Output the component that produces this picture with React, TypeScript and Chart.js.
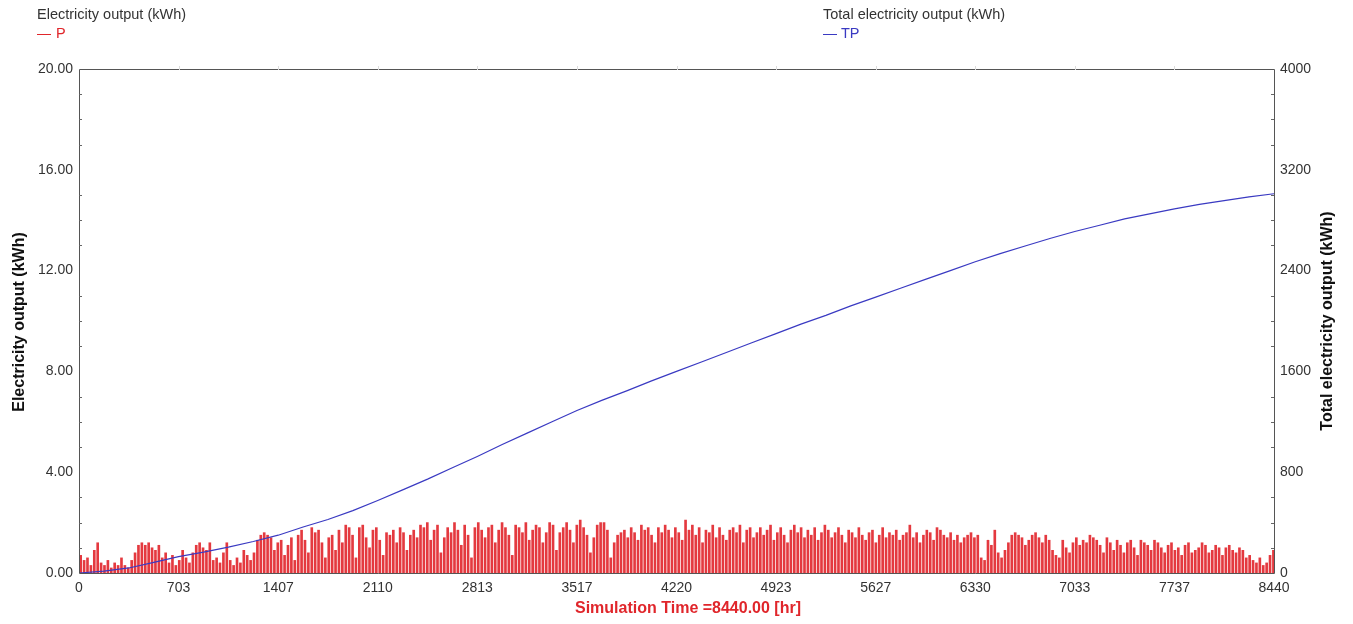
import { useEffect, useRef } from 'react';
import { Chart, registerables } from 'chart.js';

Chart.register(...registerables);

// Daily peak electricity output P (kWh), one value per simulated day (24 h)
const dailyPeakP: number[] = [
  0.7, 0.5, 0.6, 0.3, 0.9, 1.2, 0.4, 0.3, 0.5, 0.2, 0.4, 0.3, 0.6, 0.3, 0.2, 0.5, 0.8, 1.1, 1.2, 1.1,
  1.2, 1.0, 0.9, 1.1, 0.6, 0.8, 0.4, 0.7, 0.3, 0.5, 0.9, 0.6, 0.4, 0.8, 1.1, 1.2, 1.0, 0.9, 1.2, 0.5,
  0.6, 0.4, 0.8, 1.2, 0.5, 0.3, 0.6, 0.4, 0.9, 0.7, 0.5, 0.8, 1.3, 1.5, 1.6, 1.5, 1.4, 0.9, 1.2, 1.3,
  0.7, 1.1, 1.4, 0.5, 1.5, 1.7, 1.3, 0.8, 1.8, 1.6, 1.7, 1.2, 0.6, 1.4, 1.5, 0.9, 1.7, 1.2, 1.9, 1.8,
  1.5, 0.6, 1.8, 1.9, 1.4, 1.0, 1.7, 1.8, 1.3, 0.7, 1.6, 1.5, 1.7, 1.2, 1.8, 1.6, 0.9, 1.5, 1.7, 1.4,
  1.9, 1.8, 2.0, 1.3, 1.7, 1.9, 0.8, 1.4, 1.8, 1.6, 2.0, 1.7, 1.1, 1.9, 1.5, 0.6, 1.8, 2.0, 1.7, 1.4,
  1.8, 1.9, 1.2, 1.7, 2.0, 1.8, 1.5, 0.7, 1.9, 1.8, 1.6, 2.0, 1.3, 1.7, 1.9, 1.8, 1.2, 1.6, 2.0, 1.9,
  0.9, 1.6, 1.8, 2.0, 1.7, 1.2, 1.9, 2.1, 1.8, 1.5, 0.8, 1.4, 1.9, 2.0, 2.0, 1.7, 0.6, 1.2, 1.5, 1.6,
  1.7, 1.4, 1.8, 1.6, 1.3, 1.9, 1.7, 1.8, 1.5, 1.2, 1.8, 1.6, 1.9, 1.7, 1.4, 1.8, 1.6, 1.3, 2.1, 1.7,
  1.9, 1.5, 1.8, 1.2, 1.7, 1.6, 1.9, 1.4, 1.8, 1.5, 1.3, 1.7, 1.8, 1.6, 1.9, 1.2, 1.7, 1.8, 1.4, 1.6,
  1.8, 1.5, 1.7, 1.9, 1.3, 1.6, 1.8, 1.5, 1.2, 1.7, 1.9, 1.6, 1.8, 1.4, 1.7, 1.5, 1.8, 1.3, 1.6, 1.9,
  1.7, 1.4, 1.6, 1.8, 1.5, 1.2, 1.7, 1.6, 1.4, 1.8, 1.5, 1.3, 1.6, 1.7, 1.2, 1.5, 1.8, 1.4, 1.6, 1.5,
  1.7, 1.3, 1.5, 1.6, 1.9, 1.4, 1.6, 1.2, 1.5, 1.7, 1.6, 1.3, 1.8, 1.7, 1.5, 1.4, 1.6, 1.3, 1.5, 1.2,
  1.4, 1.5, 1.6, 1.4, 1.5, 0.6, 0.5, 1.3, 1.1, 1.7, 0.8, 0.6, 0.9, 1.2, 1.5, 1.6, 1.5, 1.4, 1.1, 1.3,
  1.5, 1.6, 1.4, 1.2, 1.5, 1.3, 0.9, 0.7, 0.6, 1.3, 1.0, 0.8, 1.2, 1.4, 1.1, 1.3, 1.2, 1.5, 1.4, 1.3,
  1.1, 0.8, 1.4, 1.2, 0.9, 1.3, 1.1, 0.8, 1.2, 1.3, 1.0, 0.7, 1.3, 1.2, 1.1, 0.9, 1.3, 1.2, 1.0, 0.8,
  1.1, 1.2, 0.9, 1.0, 0.7, 1.1, 1.2, 0.8, 0.9, 1.0, 1.2, 1.1, 0.8, 0.9, 1.1, 1.0, 0.7, 1.0, 1.1, 0.9,
  0.8, 1.0, 0.9, 0.6, 0.7, 0.5, 0.4, 0.6, 0.3, 0.4, 0.7, 0.9,
];

// Total (cumulative) electricity output TP (kWh) at given hours
const tpHours: number[] = [
  0, 176, 352, 528, 703, 880, 1055, 1231, 1407, 1583, 1758, 1934, 2110, 2286, 2462, 2637, 2813,
  2989, 3165, 3341, 3517, 3692, 3868, 4044, 4220, 4396, 4572, 4747, 4923, 5099, 5275, 5451, 5627,
  5802, 5978, 6154, 6330, 6506, 6682, 6857, 7033, 7209, 7385, 7561, 7737, 7913, 8088, 8264, 8440,
];
const tpValues: number[] = [
  0, 15, 40, 85, 130, 165, 205, 250, 300, 365, 425, 495, 575, 660, 745, 835, 925,
  1020, 1110, 1200, 1290, 1370, 1445, 1525, 1600, 1675, 1750, 1825, 1900, 1975, 2045, 2120, 2190,
  2260, 2330, 2400, 2470, 2535, 2595, 2655, 2710, 2760, 2810, 2850, 2890, 2925, 2955, 2985, 3010,
];

const xTickLabels: number[] = [0, 703, 1407, 2110, 2813, 3517, 4220, 4923, 5627, 6330, 7033, 7737, 8440];
const leftTicks: number[] = [0, 4, 8, 12, 16, 20];
const rightTicks: number[] = [0, 800, 1600, 2400, 3200, 4000];

const FONT = "'Liberation Sans', Arial, sans-serif";
const RED = '#e0262b';
const BLUE = '#3a3ac2';

const decorPlugin = {
  id: 'decor',
  afterDatasetsDraw(chart: any) {
    const { ctx, chartArea } = chart;
    const { left, right, top, bottom } = chartArea;
    ctx.save();
    ctx.strokeStyle = '#555';
    ctx.lineWidth = 1;
    ctx.beginPath();
    ctx.rect(Math.round(left) + 0.5, Math.round(top) + 0.5, Math.round(right - left), Math.round(bottom - top));
    ctx.stroke();
    const yl = chart.scales.y;
    const yr = chart.scales.y2;
    ctx.strokeStyle = '#666';
    ctx.beginPath();
    for (let v = 1; v < 20; v++) {
      if (v % 4 === 0) continue;
      const py = Math.round(yl.getPixelForValue(v)) + 0.5;
      ctx.moveTo(left, py);
      ctx.lineTo(left + 3, py);
    }
    for (let v = 200; v < 4000; v += 200) {
      if (v % 800 === 0) continue;
      const py = Math.round(yr.getPixelForValue(v)) + 0.5;
      ctx.moveTo(right, py);
      ctx.lineTo(right - 3, py);
    }
    ctx.stroke();
    const xs = chart.scales.x;
    ctx.strokeStyle = '#ddd';
    ctx.beginPath();
    for (const v of xTickLabels.slice(1, -1)) {
      const px = Math.round(xs.getPixelForValue(v)) + 0.5;
      ctx.moveTo(px, top - 3);
      ctx.lineTo(px, top + 1);
    }
    ctx.stroke();
    ctx.restore();
  },
  afterDraw(chart: any) {
    const { ctx } = chart;
    ctx.save();
    ctx.textBaseline = 'middle';
    ctx.font = `14.5px ${FONT}`;
    ctx.fillStyle = '#333';
    ctx.textAlign = 'left';
    ctx.fillText('Electricity output (kWh)', 37, 15);
    ctx.fillText('Total electricity output (kWh)', 823, 15);
    ctx.lineWidth = 1;
    ctx.strokeStyle = RED;
    ctx.beginPath();
    ctx.moveTo(37, 34.5);
    ctx.lineTo(51, 34.5);
    ctx.stroke();
    ctx.fillStyle = RED;
    ctx.fillText('P', 56, 34);
    ctx.strokeStyle = BLUE;
    ctx.beginPath();
    ctx.moveTo(823, 34.5);
    ctx.lineTo(837, 34.5);
    ctx.stroke();
    ctx.fillStyle = BLUE;
    ctx.fillText('TP', 841, 34);
    ctx.font = `bold 16px ${FONT}`;
    ctx.fillStyle = '#111';
    ctx.textAlign = 'center';
    ctx.save();
    ctx.translate(20, 322);
    ctx.rotate(-Math.PI / 2);
    ctx.fillText('Electricity output (kWh)', 0, 0);
    ctx.restore();
    ctx.save();
    ctx.translate(1328, 321);
    ctx.rotate(-Math.PI / 2);
    ctx.fillText('Total electricity output (kWh)', 0, 0);
    ctx.restore();
    ctx.font = `bold 16px ${FONT}`;
    ctx.fillStyle = RED;
    ctx.fillText('Simulation Time =8440.00 [hr]', 688, 609);
    ctx.restore();
  },
};

export default function App() {
  const ref = useRef<HTMLCanvasElement | null>(null);
  useEffect(() => {
    document.body.style.margin = '0';
    if (!ref.current) return;
    const barData = dailyPeakP.map((v, i) => ({ x: i * 24 + 12, y: v }));
    const lineData = tpHours.map((h, i) => ({ x: h, y: tpValues[i] }));
    const tickFont = { family: FONT, size: 14 };
    const chart = new Chart(ref.current, {
      type: 'bar',
      data: {
        datasets: [
          {
            type: 'line',
            label: 'TP',
            data: lineData,
            yAxisID: 'y2',
            borderColor: BLUE,
            borderWidth: 1.2,
            pointRadius: 0,
            tension: 0,
            order: 0,
          } as any,
          {
            type: 'bar',
            label: 'P',
            data: barData,
            yAxisID: 'y',
            backgroundColor: 'rgba(224,30,36,0.88)',
            borderWidth: 0,
            barThickness: 2,
            grouped: false,
            order: 1,
          } as any,
        ],
      },
      options: {
        animation: false,
        responsive: true,
        maintainAspectRatio: false,
        layout: { padding: { top: 69, left: 0, right: 0, bottom: 0 } },
        plugins: { legend: { display: false }, tooltip: { enabled: false } },
        scales: {
          x: {
            type: 'linear',
            position: 'bottom',
            offset: false,
            min: 0,
            max: 8440,
            grid: { display: false, drawTicks: false, offset: false },
            border: { display: false },
            afterBuildTicks: (s: any) => {
              s.ticks = xTickLabels.map((v) => ({ value: v }));
            },
            afterFit: (s: any) => {
              s.height = 51;
            },
            ticks: {
              font: tickFont,
              color: '#333',
              padding: 7,
              maxRotation: 0,
              autoSkip: false,
              callback: (v: any) => String(v),
            },
          },
          y: {
            type: 'linear',
            position: 'left',
            min: 0,
            max: 20,
            grid: { display: false, drawTicks: false },
            border: { display: false },
            afterBuildTicks: (s: any) => {
              s.ticks = leftTicks.map((v) => ({ value: v }));
            },
            afterFit: (s: any) => {
              s.width = 79;
            },
            ticks: {
              font: tickFont,
              color: '#333',
              padding: 6,
              callback: (v: any) => Number(v).toFixed(2),
            },
          },
          y2: {
            type: 'linear',
            position: 'right',
            min: 0,
            max: 4000,
            grid: { display: false, drawTicks: false },
            border: { display: false },
            afterBuildTicks: (s: any) => {
              s.ticks = rightTicks.map((v) => ({ value: v }));
            },
            afterFit: (s: any) => {
              s.width = 79;
            },
            ticks: {
              font: tickFont,
              color: '#333',
              padding: 6,
              callback: (v: any) => String(v),
            },
          },
        },
      },
      plugins: [decorPlugin],
    });
    return () => chart.destroy();
  }, []);
  return (
    <div style={{ width: 1353, height: 624, position: 'relative', background: '#fff' }}>
      <canvas ref={ref} />
    </div>
  );
}
